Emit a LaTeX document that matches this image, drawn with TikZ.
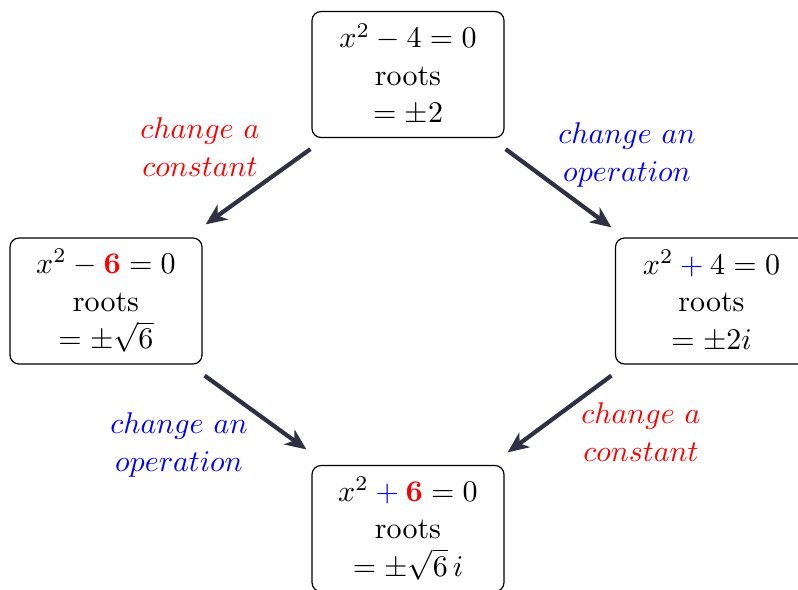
\documentclass[tikz,border=0pt]{standalone}
\usetikzlibrary{arrows.meta,calc}
\definecolor{arrowcol}{RGB}{48,48,68}
\begin{document}
\begin{tikzpicture}[x=0.33333pt,y=-0.33333pt,
  eqbox/.style={draw,rounded corners=3pt,minimum width=64pt,minimum height=42pt,
    align=center,inner sep=0pt,font={\fontsize{10}{12.5}\selectfont}},
  redlab/.style={text=red,align=center,font={\fontsize{10}{12.5}\selectfont}},
  bluelab/.style={text=blue,align=center,font={\fontsize{10}{12.5}\selectfont}},
  conn/.style={draw=arrowcol,line width=1.4pt,-{Stealth[length=7pt,width=6pt,inset=2pt]}}]
\useasboundingbox (0,0) rectangle (798,589);
\clip (0,0) rectangle (798,589);
\node[eqbox] (top) at (408,74.5) {$x^2-4=0$\\roots\\$=\pm2$};
\node[eqbox] (left) at (106,301) {$x^2-{\color{red}\mathbf{6}}=0$\\roots\\$=\pm\sqrt{6}$};
\node[eqbox] (right) at (711.5,301) {$x^2\mathbin{\color{blue}+}4=0$\\roots\\$=\pm2i$};
\node[eqbox] (bot) at (408,528.5) {$x^2\mathbin{\color{blue}+}{\color{red}\mathbf{6}}=0$\\roots\\$=\pm\sqrt{6}\,i$};
\node[redlab] (l1) at (200,147) {$change\ a$\\$constant$};
\node[bluelab] (l2) at (627,155) {$change\ an$\\$operation$};
\node[bluelab] (l3) at (179,445) {$change\ an$\\$operation$};
\node[redlab] (l4) at (641,432) {$change\ a$\\$constant$};
\draw[conn] ($(top.south west)+(-1,11)$) -- ($(left.north east)+(3,-13)$);
\draw[conn] ($(top.south east)+(1,11)$) -- ($(right.north west)+(-3.5,-10)$);
\draw[conn] ($(left.south east)+(2,11)$) -- ($(bot.north west)+(-5,-15.5)$);
\draw[conn] ($(right.south west)+(-3.5,11)$) -- ($(bot.north east)+(3,-12.5)$);
\end{tikzpicture}
\end{document}
